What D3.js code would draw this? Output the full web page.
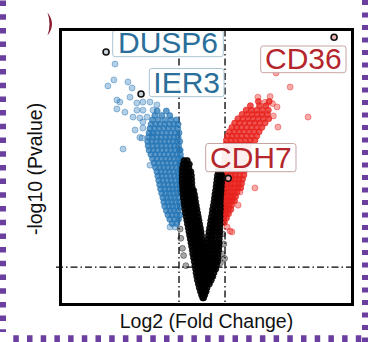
<!DOCTYPE html>
<html>
<head>
<meta charset="utf-8">
<script src="https://cdn.jsdelivr.net/npm/d3@7"></script>
<style>
  html, body { margin: 0; padding: 0; background: #fff; }
  svg { display: block; }
</style>
</head>
<body>
<svg id="chart" width="386" height="342"></svg>
<script>
// Significance cut-offs: |log2 FC| = 1 and -log10(0.05)
const fcCutoffs = [-1, 1];
const pCutoffs = [1.3];

// Highlighted genes
const geneNames = ["DUSP6", "IER3", "CD36", "CDH7"];
const geneFC    = [-4.17, -2.65, 5.74, 1.14];
const geneLogP  = [8.77, 7.31, 9.28, 4.38];
const geneDir   = ["down", "down", "up", "up"];

// Down-regulated genes, grouped by -log10 p: [logP, [log2FC ...]]
const downRows = [
  [6.72, [-1.95, -1.55]],
  [6.56, [-2.05, -1.75, -1.40]],
  [6.41, [-2.15, -1.90, -1.62, -1.35, -1.12]],
  [6.26, [-2.21, -2.02, -1.83, -1.62, -1.42, -1.22, -1.04]],
  [6.11, [-2.26, -2.06, -1.86, -1.66, -1.46, -1.26, -1.06]],
  [5.96, [-2.30, -2.12, -1.93, -1.74, -1.55, -1.36, -1.16, -1.00]],
  [5.81, [-2.33, -2.15, -1.96, -1.77, -1.58, -1.40, -1.22, -1.04]],
  [5.66, [-2.36, -2.17, -1.98, -1.80, -1.62, -1.44, -1.26, -1.08, -0.97]],
  [5.51, [-2.34, -2.14, -1.95, -1.76, -1.57, -1.38, -1.20, -1.02]],
  [5.36, [-2.30, -2.12, -1.93, -1.74, -1.55, -1.36, -1.18, -1.00, -0.95]],
  [5.21, [-2.22, -2.03, -1.84, -1.65, -1.46, -1.28, -1.10, -0.94]],
  [5.06, [-2.15, -1.96, -1.77, -1.58, -1.40, -1.22, -1.04, -0.91]],
  [4.91, [-2.08, -1.89, -1.70, -1.52, -1.34, -1.16, -0.98]],
  [4.76, [-2.02, -1.84, -1.66, -1.48, -1.30, -1.12, -0.95]],
  [4.61, [-1.96, -1.78, -1.60, -1.42, -1.24, -1.06, -0.93]],
  [4.46, [-1.92, -1.74, -1.56, -1.38, -1.20, -1.02]],
  [4.31, [-1.88, -1.70, -1.52, -1.34, -1.16, -0.98]],
  [4.16, [-1.84, -1.66, -1.48, -1.30, -1.12, -0.96]],
  [4.01, [-1.80, -1.62, -1.44, -1.27, -1.10, -0.95]],
  [3.86, [-1.75, -1.58, -1.41, -1.24, -1.07, -0.93]],
  [3.71, [-1.70, -1.53, -1.36, -1.19, -1.02]],
  [3.56, [-1.66, -1.49, -1.32, -1.15, -0.98]],
  [3.41, [-1.62, -1.45, -1.28, -1.11, -0.95]],
  [3.26, [-1.55, -1.38, -1.21, -1.04]],
  [3.11, [-1.48, -1.30, -1.12, -0.96]],
  [2.96, [-1.40, -1.20, -1.02]],
  [2.81, [-1.30, -1.10]]
];

// Isolated down-regulated genes: [log2FC, logP]
const downScatter = [
  [-3.78, 8.35], [-3.83, 7.80], [-4.09, 7.59], [-3.22, 7.73], [-3.04, 7.52],
  [-3.70, 7.10], [-3.57, 7.03], [-3.70, 6.79], [-3.35, 6.68], [-3.13, 7.20],
  [-2.83, 7.00], [-2.57, 7.03], [-2.26, 7.03], [-1.96, 6.93], [-2.83, 6.75],
  [-2.57, 6.75], [-2.13, 6.75], [-3.00, 6.51], [-2.70, 6.48], [-2.39, 6.51],
  [-2.91, 6.06], [-2.57, 6.13], [-2.61, 5.78], [-2.70, 5.80], [-3.43, 5.40],
  [-2.57, 6.34], [-2.26, 4.84], [-1.39, 2.69], [-1.17, 2.69], [-2.17, 5.95]
];

// Up-regulated genes, grouped by -log10 p
const upRows = [
  [7.05, [2.45, 2.92]],
  [6.90, [2.10, 2.50, 2.78]],
  [6.75, [1.92, 2.15, 2.38, 2.62, 2.88]],
  [6.60, [1.74, 1.96, 2.18, 2.40, 2.62, 2.84]],
  [6.45, [1.56, 1.78, 2.00, 2.22, 2.44, 2.66, 2.90]],
  [6.30, [1.42, 1.63, 1.85, 2.07, 2.29, 2.51, 2.74]],
  [6.15, [1.30, 1.51, 1.72, 1.94, 2.16, 2.38, 2.60]],
  [6.00, [1.19, 1.40, 1.61, 1.82, 2.04, 2.26, 2.48]],
  [5.85, [1.11, 1.31, 1.51, 1.72, 1.94, 2.16, 2.38]],
  [5.70, [1.06, 1.26, 1.46, 1.66, 1.88, 2.10, 2.30]],
  [5.55, [1.03, 1.22, 1.42, 1.62, 1.84, 2.05]],
  [5.40, [1.01, 1.20, 1.40, 1.60, 1.80, 2.00]],
  [5.25, [0.99, 1.18, 1.38, 1.58, 1.78, 1.98]],
  [5.10, [0.98, 1.16, 1.36, 1.55, 1.75, 1.95]],
  [4.95, [0.97, 1.15, 1.34, 1.53, 1.72, 1.92]],
  [4.80, [0.97, 1.14, 1.32, 1.50, 1.70, 1.88]],
  [4.65, [0.96, 1.13, 1.30, 1.48, 1.66, 1.85]],
  [4.50, [0.96, 1.12, 1.28, 1.45, 1.63, 1.82]],
  [4.35, [0.96, 1.12, 1.28, 1.44, 1.60, 1.76]],
  [4.20, [0.96, 1.11, 1.26, 1.42, 1.58, 1.72]],
  [4.05, [0.96, 1.10, 1.25, 1.40, 1.55, 1.68]],
  [3.90, [0.95, 1.09, 1.23, 1.37, 1.52]],
  [3.75, [0.95, 1.08, 1.21, 1.34, 1.46]],
  [3.60, [0.95, 1.07, 1.19, 1.31, 1.41]],
  [3.45, [0.95, 1.06, 1.17, 1.28]],
  [3.30, [0.95, 1.05, 1.15, 1.25]],
  [3.15, [0.95, 1.05, 1.15]],
  [3.00, [0.95, 1.06]],
  [2.85, [0.97]]
];

// Isolated up-regulated genes
const upScatter = [
  [3.22, 8.04], [3.83, 7.55], [4.61, 6.51], [3.30, 6.16], [2.43, 7.20],
  [2.96, 7.22], [3.26, 6.86], [2.74, 7.02], [3.06, 6.98], [3.10, 6.55],
  [2.30, 4.05], [1.65, 3.91], [1.57, 3.45], [1.30, 2.52], [1.09, 2.69],
  [1.22, 2.55]
];

// Non-significant genes, grouped by -log10 p
const nsRows = [
  [5.00, [-0.78, -0.64]],
  [4.87, [-0.82, -0.68, -0.55]],
  [4.74, [-0.85, -0.71, -0.57, 0.72, 0.84]],
  [4.61, [-0.86, -0.72, -0.58, -0.48, 0.70, 0.82]],
  [4.48, [-0.86, -0.72, -0.58, -0.46, 0.67, 0.80, 0.86]],
  [4.35, [-0.86, -0.72, -0.58, -0.45, 0.65, 0.78, 0.86]],
  [4.22, [-0.86, -0.72, -0.58, -0.44, 0.63, 0.76, 0.85]],
  [4.09, [-0.85, -0.71, -0.57, -0.43, 0.61, 0.74, 0.84]],
  [3.96, [-0.84, -0.70, -0.56, -0.42, -0.36, 0.59, 0.72, 0.83]],
  [3.83, [-0.83, -0.69, -0.55, -0.41, -0.33, 0.56, 0.69, 0.82]],
  [3.70, [-0.81, -0.67, -0.53, -0.39, -0.30, 0.54, 0.67, 0.81]],
  [3.57, [-0.79, -0.65, -0.51, -0.37, -0.28, 0.52, 0.65, 0.80]],
  [3.44, [-0.77, -0.63, -0.49, -0.35, -0.25, 0.49, 0.62, 0.80]],
  [3.31, [-0.75, -0.61, -0.47, -0.33, -0.22, 0.46, 0.60, 0.80]],
  [3.18, [-0.72, -0.58, -0.44, -0.30, -0.19, 0.44, 0.58, 0.72, 0.79]],
  [3.05, [-0.69, -0.55, -0.41, -0.27, -0.16, 0.41, 0.55, 0.68, 0.79]],
  [2.92, [-0.66, -0.52, -0.38, -0.24, -0.13, 0.38, 0.52, 0.66, 0.79]],
  [2.79, [-0.63, -0.49, -0.35, -0.21, -0.10, 0.36, 0.50, 0.64, 0.79]],
  [2.66, [-0.60, -0.46, -0.32, -0.18, -0.07, 0.33, 0.47, 0.62, 0.78]],
  [2.53, [-0.57, -0.43, -0.29, -0.15, -0.04, 0.30, 0.44, 0.59, 0.77]],
  [2.40, [-0.54, -0.40, -0.26, -0.12, -0.02, 0.28, 0.42, 0.57, 0.76]],
  [2.27, [-0.51, -0.37, -0.23, -0.10, 0.00, 0.25, 0.40, 0.55, 0.75]],
  [2.14, [-0.48, -0.34, -0.20, -0.07, 0.03, 0.22, 0.37, 0.52, 0.66, 0.75]],
  [2.01, [-0.45, -0.31, -0.17, -0.05, 0.05, 0.19, 0.34, 0.50, 0.64, 0.74]],
  [1.88, [-0.42, -0.28, -0.14, -0.02, 0.08, 0.17, 0.32, 0.47, 0.62, 0.73]],
  [1.75, [-0.40, -0.26, -0.12, 0.00, 0.12, 0.26, 0.40, 0.55, 0.70]],
  [1.62, [-0.37, -0.23, -0.09, 0.04, 0.17, 0.31, 0.45, 0.59, 0.70]],
  [1.49, [-0.34, -0.20, -0.06, 0.07, 0.20, 0.34, 0.48, 0.60, 0.68]],
  [1.36, [-0.31, -0.17, -0.04, 0.09, 0.22, 0.36, 0.50, 0.63]],
  [1.23, [-0.28, -0.15, -0.02, 0.11, 0.24, 0.38, 0.50, 0.60]],
  [1.10, [-0.26, -0.13, 0.00, 0.13, 0.26, 0.39, 0.52]],
  [0.97, [-0.23, -0.10, 0.03, 0.16, 0.29, 0.42, 0.47]],
  [0.84, [-0.20, -0.07, 0.06, 0.19, 0.31, 0.40]],
  [0.71, [-0.16, -0.04, 0.08, 0.20, 0.32]],
  [0.58, [-0.12, 0.00, 0.11, 0.22]],
  [0.45, [-0.07, 0.03, 0.12, 0.18]],
  [0.33, [-0.02, 0.06, 0.12]],
  [0.23, [0.03, 0.07]]
];

// Borderline non-significant genes drawn fainter
const nsFaint = [
  [-0.95, 2.62], [-0.92, 2.30], [-0.85, 1.95], [-0.80, 1.70], [-0.70, 1.35],
  [0.90, 2.45], [0.95, 2.10], [0.88, 1.75], [0.80, 1.45], [0.98, 1.60]
];

// ---- layout ----
const plot = { left: 60.5, right: 352.5, top: 29.5, bottom: 304.5 };
const COLORS = { down: "#2676b6", up: "#e8211c", ns: "#000000", frame: "#6b3fa0" };
const R = 3;

const svg = d3.select("#chart");

const x = d3.scaleLinear().domain([-6.15, 6.54]).range([plot.left, plot.right]);
const y = d3.scaleLinear().domain([0, 9.55]).range([plot.bottom, plot.top]);

const unpack = rows => rows.flatMap(([lp, fcs]) => fcs.map(fc => [fc, lp]));

// purple dotted page frame
const frame = svg.append("g").attr("stroke", COLORS.frame).attr("fill", "none");
frame.append("line").attr("x1", 3).attr("x2", 3).attr("y1", 0.5).attr("y2", 332)
  .attr("stroke-width", 6).attr("stroke-dasharray", "5.5 8.2");
frame.append("line").attr("x1", 365).attr("x2", 365).attr("y1", 0).attr("y2", 342)
  .attr("stroke-width", 6).attr("stroke-dasharray", "5 7.5");
frame.append("line").attr("x1", 13.3).attr("x2", 362).attr("y1", 338.7).attr("y2", 338.7)
  .attr("stroke-width", 7).attr("stroke-dasharray", "5.5 8.2");

// panel mark at the top-left
svg.append("path")
  .attr("d", "M47.5,12.5 Q56.5,24 47.5,35.5 Q51.5,24 47.5,12.5 Z")
  .attr("fill", "#8a1c2f");

// threshold lines
const guides = svg.append("g")
  .attr("stroke", "#000").attr("stroke-width", 1.3)
  .attr("stroke-dasharray", "7 3 1.5 3").attr("fill", "none");
guides.selectAll("line.v").data(fcCutoffs).join("line").attr("class", "v")
  .attr("x1", d => x(d)).attr("x2", d => x(d))
  .attr("y1", plot.top).attr("y2", plot.bottom);
guides.selectAll("line.h").data(pCutoffs).join("line").attr("class", "h")
  .attr("x1", 56).attr("x2", plot.right)
  .attr("y1", d => y(d)).attr("y2", d => y(d));

// points
function drawPoints(data, color, fillOp, strokeOp) {
  svg.append("g").selectAll("circle").data(data).join("circle")
    .attr("cx", d => x(d[0])).attr("cy", d => y(d[1])).attr("r", R)
    .attr("fill", color).attr("fill-opacity", fillOp)
    .attr("stroke", color).attr("stroke-opacity", strokeOp).attr("stroke-width", 0.8);
}
drawPoints(downScatter, COLORS.down, 0.35, 0.55);
drawPoints(unpack(downRows), COLORS.down, 0.72, 0.85);
drawPoints(upScatter, COLORS.up, 0.38, 0.55);
drawPoints(unpack(upRows), COLORS.up, 0.78, 0.9);
drawPoints(nsFaint, COLORS.ns, 0.35, 0.45);
drawPoints(unpack(nsRows), COLORS.ns, 0.9, 0.95);

// highlighted genes
const genes = geneNames.map((name, i) => ({ name, fc: geneFC[i], lp: geneLogP[i], dir: geneDir[i] }));
svg.append("g").selectAll("circle").data(genes).join("circle")
  .attr("cx", d => x(d.fc)).attr("cy", d => y(d.lp)).attr("r", R)
  .attr("fill", d => d.dir === "up" ? "#e9b3b3" : "#c9d3da")
  .attr("stroke", "#111").attr("stroke-width", 1.6);

// label boxes (pixel placement)
const labelBox = {
  DUSP6: { x: 112.7, y: 30.5, w: 110.6, h: 26.2 },
  IER3:  { x: 149.3, y: 68.5, w: 74.7,  h: 28.2 },
  CD36:  { x: 260.7, y: 46,   w: 85.3,  h: 26.7 },
  CDH7:  { x: 205.7, y: 143.5, w: 90.3, h: 28.2 }
};
const labels = svg.append("g").selectAll("g").data(genes).join("g");
labels.append("rect")
  .attr("x", d => labelBox[d.name].x).attr("y", d => labelBox[d.name].y)
  .attr("width", d => labelBox[d.name].w).attr("height", d => labelBox[d.name].h)
  .attr("rx", 2.5)
  .attr("fill", "#ffffff").attr("fill-opacity", 0.92)
  .attr("stroke", d => d.dir === "up" ? "#c7a3a3" : "#a9c4d4").attr("stroke-width", 1);
labels.append("text")
  .attr("x", d => labelBox[d.name].x + labelBox[d.name].w / 2)
  .attr("y", d => labelBox[d.name].y + labelBox[d.name].h - 3.8)
  .attr("text-anchor", "middle")
  .attr("font-family", "'Liberation Sans', Arial, sans-serif")
  .attr("font-size", 30)
  .attr("fill", d => d.dir === "up" ? "#b5262c" : "#2a6f9a")
  .text(d => d.name);

// panel border
svg.append("rect")
  .attr("x", plot.left).attr("y", plot.top)
  .attr("width", plot.right - plot.left).attr("height", plot.bottom - plot.top)
  .attr("fill", "none").attr("stroke", "#000").attr("stroke-width", 3);

// axis titles
svg.append("text")
  .attr("x", (plot.left + plot.right) / 2).attr("y", 328)
  .attr("text-anchor", "middle")
  .attr("font-family", "'Liberation Sans', Arial, sans-serif")
  .attr("font-size", 19.5).attr("fill", "#111")
  .text("Log2 (Fold Change)");
svg.append("text")
  .attr("transform", "translate(41.5,169) rotate(-90)")
  .attr("text-anchor", "middle")
  .attr("font-family", "'Liberation Sans', Arial, sans-serif")
  .attr("font-size", 19.5).attr("fill", "#111")
  .text("-log10 (Pvalue)");
</script>
</body>
</html>
